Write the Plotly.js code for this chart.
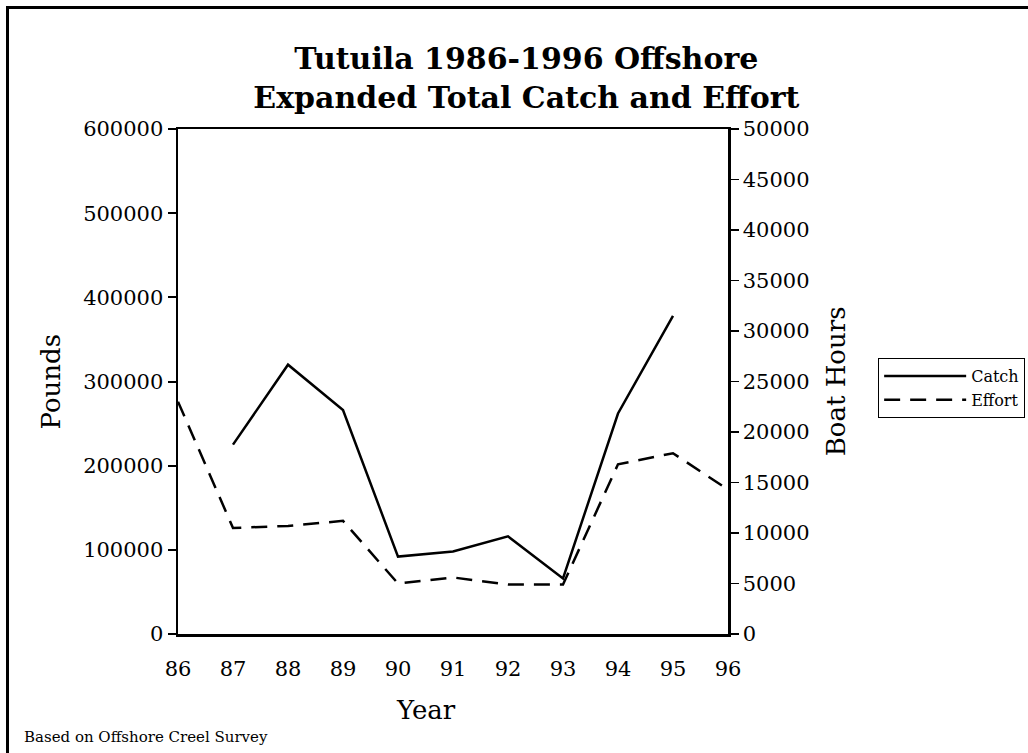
<!DOCTYPE html>
<html>
<head>
<meta charset="utf-8">
<script src="https://cdn.plot.ly/plotly-3.0.1.min.js"></script>
<style>
  html, body { margin: 0; padding: 0; background: #fff; overflow: hidden; }
  #chart { width: 1028px; height: 753px; position: absolute; left: 0; top: 0; }
  #frame { position: absolute; left: 6px; top: 6px; width: 1200px; height: 900px;
           border-left: 3px solid #000; border-top: 3px solid #000; pointer-events: none; }
</style>
</head>
<body>
<div id="chart"></div>
<div id="frame"></div>
<script>
// ---- data ----
const years = [86, 87, 88, 89, 90, 91, 92, 93, 94, 95, 96];
const yearLabels = ["86", "87", "88", "89", "90", "91", "92", "93", "94", "95", "96"];
const catchPounds = [null, 225000, 320000, 266000, 92000, 98000, 116000, 66000, 262000, 378000, null];
const effortHours = [23000, 10500, 10700, 11200, 5000, 5600, 4900, 4900, 16800, 17900, 14300];
const poundTicks = [0, 100000, 200000, 300000, 400000, 500000, 600000];
const hourTicks = [0, 5000, 10000, 15000, 20000, 25000, 30000, 35000, 40000, 45000, 50000];

const FONT = "DejaVu Serif, serif";
const TICKSIZE = 21;
const AXTITLESIZE = 26;

const traces = [
  { x: years, y: catchPounds, name: "Catch", type: "scatter", mode: "lines",
    line: { color: "#000", width: 2.5 }, connectgaps: false, xaxis: "x", yaxis: "y" },
  { x: years, y: effortHours, name: "Effort", type: "scatter", mode: "lines",
    line: { color: "#000", width: 2.5, dash: "16px,10px" }, xaxis: "x", yaxis: "y2" }
];

const layout = {
  width: 1028, height: 753,
  paper_bgcolor: "#fff", plot_bgcolor: "#fff",
  margin: { l: 178, r: 300, t: 129, b: 119, autoexpand: false },
  font: { family: FONT, color: "#000", size: TICKSIZE },
  title: {
    text: "<b>Tutuila 1986-1996 Offshore<br>Expanded Total Catch and Effort</b>",
    font: { family: FONT, size: 30, color: "#000" },
    x: 0.512, xref: "container", xanchor: "center",
    y: 0.909, yref: "container", yanchor: "middle"
  },
  showlegend: true,
  legend: {
    x: 1.273, xanchor: "left", y: 0.5465, yanchor: "top",
    bordercolor: "#000", borderwidth: 1, bgcolor: "#fff",
    font: { family: FONT, size: 16, color: "#000" },
    tracegroupgap: 0, itemwidth: 82
  },
  xaxis: {
    range: [86, 96], tickvals: years, ticktext: yearLabels,
    showgrid: false, zeroline: false, ticks: "", ticklabelstandoff: 14,
    showline: true, linecolor: "#000", linewidth: 2.5, mirror: true,
    tickfont: { family: FONT, size: TICKSIZE, color: "#000" }
  },
  yaxis: {
    range: [0, 600000], tickvals: poundTicks, tickformat: "d",
    showgrid: false, zeroline: false,
    ticks: "outside", ticklen: 8, tickwidth: 2, tickcolor: "#000",
    showline: true, linecolor: "#000", linewidth: 2.5,
    tickfont: { family: FONT, size: TICKSIZE, color: "#000" }
  },
  yaxis2: {
    range: [0, 50000], tickvals: hourTicks, tickformat: "d",
    overlaying: "y", side: "right", anchor: "x",
    showgrid: false, zeroline: false,
    ticks: "outside", ticklen: 8, tickwidth: 1.5, tickcolor: "#000",
    showline: true, linecolor: "#000", linewidth: 2.5,
    tickfont: { family: FONT, size: TICKSIZE, color: "#000" }
  },
  // inner halves of the crossing tick marks
  yaxis3: {
    range: [0, 600000], tickvals: poundTicks, overlaying: "y", side: "left", anchor: "x",
    showgrid: false, zeroline: false, showticklabels: false,
    ticks: "inside", ticklen: 5, tickwidth: 2, tickcolor: "#000", showline: false
  },
  yaxis4: {
    range: [0, 50000], tickvals: hourTicks, overlaying: "y", side: "right", anchor: "x",
    showgrid: false, zeroline: false, showticklabels: false,
    ticks: "inside", ticklen: 7, tickwidth: 1.5, tickcolor: "#000", showline: false
  },
  annotations: [
    { text: "Year", xref: "paper", yref: "paper", x: 0.451, y: -0.150,
      xanchor: "center", yanchor: "middle", showarrow: false,
      font: { family: FONT, size: AXTITLESIZE, color: "#000" } },
    { text: "Pounds", xref: "paper", yref: "paper", x: -0.2327, y: 0.5, textangle: -90,
      xanchor: "center", yanchor: "middle", showarrow: false,
      font: { family: FONT, size: AXTITLESIZE, color: "#000" } },
    { text: "Boat Hours", xref: "paper", yref: "paper", x: 1.196, y: 0.5, textangle: -90,
      xanchor: "center", yanchor: "middle", showarrow: false,
      font: { family: FONT, size: AXTITLESIZE, color: "#000" } },
    { text: "Based on Offshore Creel Survey", xref: "paper", yref: "paper",
      x: -0.2836, y: -0.204, xanchor: "left", yanchor: "middle", showarrow: false,
      font: { family: FONT, size: 15, color: "#000" } }
  ]
};

Plotly.newPlot("chart", traces, layout, { displayModeBar: false, staticPlot: true });
</script>
</body>
</html>
